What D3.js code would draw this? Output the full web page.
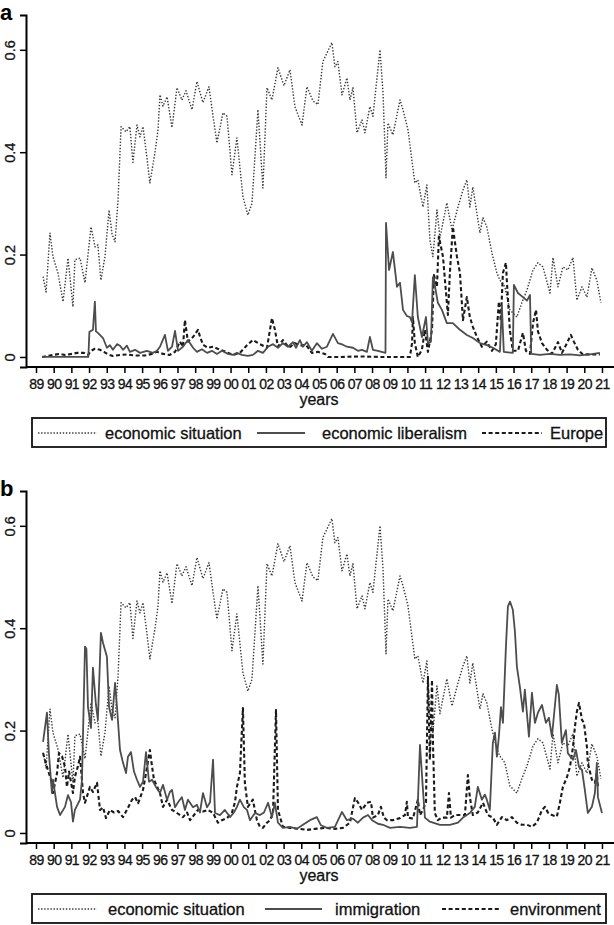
<!DOCTYPE html>
<html>
<head>
<meta charset="utf-8">
<script src="https://cdn.jsdelivr.net/npm/d3@7/dist/d3.min.js"></script>
<style>
body { margin: 0; background: #fff; }
svg { display: block; font-family: "Liberation Sans", Arial, sans-serif; }
.lbl { stroke: #111; stroke-width: 0.3px; }
</style>
</head>
<body>
<svg id="chart" width="614" height="925"></svg>
<script>
// share of topics over time, [year, value]
var econSituation = [
  [1989.40,.157],[1989.57,.127],[1989.79,.242],[1989.96,.196],[1990.24,.164],[1990.53,.108],[1990.81,.193],
  [1991.09,.098],[1991.20,.19],[1991.49,.193],[1991.77,.145],[1992.11,.254],[1992.34,.215],[1992.50,.219],
  [1992.67,.15],[1992.90,.196],[1993.13,.287],[1993.30,.24],[1993.47,.225],[1993.64,.307],[1993.81,.45],
  [1994.09,.44],[1994.31,.45],[1994.48,.38],[1994.71,.453],[1994.88,.43],[1995.05,.45],[1995.27,.39],
  [1995.44,.34],[1995.73,.40],[1995.90,.444],[1996.01,.512],[1996.18,.49],[1996.41,.508],[1996.69,.448],
  [1996.97,.526],[1997.25,.502],[1997.48,.52],[1997.82,.483],[1998.10,.538],[1998.44,.497],[1998.78,.528],
  [1999.01,.47],[1999.23,.418],[1999.57,.477],[1999.80,.47],[2000.08,.356],[2000.36,.428],[2000.70,.313],
  [2000.98,.277],[2001.21,.30],[2001.55,.483],[2001.83,.33],[2002.06,.526],[2002.34,.502],[2002.68,.565],
  [2003.02,.53],[2003.36,.561],[2003.64,.489],[2004.04,.453],[2004.32,.528],[2004.66,.50],[2004.94,.493],
  [2005.22,.577],[2005.73,.614],[2005.90,.567],[2006.07,.577],[2006.30,.512],[2006.58,.545],[2006.75,.502],
  [2006.92,.526],[2007.15,.438],[2007.43,.463],[2007.60,.438],[2007.88,.489],[2008.05,.47],[2008.45,.600],
  [2008.62,.516],[2008.79,.35],[2008.90,.457],[2009.18,.434],[2009.58,.502],[2009.75,.483],[2010.03,.444],
  [2010.42,.34],[2010.59,.346],[2010.88,.293],[2011.10,.336],[2011.27,.229],[2011.44,.196],[2011.67,.287],
  [2011.84,.233],[2012.23,.301],[2012.52,.248],[2012.86,.293],[2013.14,.326],[2013.36,.346],[2013.53,.293],
  [2013.70,.332],[2014.10,.242],[2014.27,.272],[2014.49,.254],[2014.78,.203],[2015.06,.164],[2015.23,.15],
  [2015.51,.137],[2015.79,.092],[2016.19,.078],[2016.47,.106],[2016.76,.131],[2017.10,.170],[2017.38,.184],
  [2017.66,.176],[2018.06,.125],[2018.23,.194],[2018.51,.137],[2018.79,.176],[2019.07,.170],[2019.36,.194],
  [2019.58,.111],[2019.87,.137],[2020.15,.117],[2020.43,.174],[2020.71,.150],[2020.94,.106]
];

var econLiberalism = [
  [1989.34,0],[1991.96,0],[1992.02,.049],[1992.22,.053],[1992.33,.108],[1992.39,.05],[1992.50,.047],
  [1992.79,.037],[1993.01,.018],[1993.18,.023],[1993.35,.014],[1993.58,.025],[1993.75,.022],[1993.92,.014],
  [1994.14,.022],[1994.31,.010],[1994.60,.014],[1994.88,.008],[1995.27,.012],[1995.61,.008],[1995.84,.012],
  [1996.01,.020],[1996.29,.043],[1996.46,.012],[1996.69,.02],[1996.86,.051],[1997.03,.012],[1997.31,.02],
  [1997.59,.033],[1997.88,.018],[1998.10,.01],[1998.38,.015],[1998.67,.008],[1998.95,.012],[1999.23,.006],
  [1999.51,.012],[1999.85,.006],[2000.14,.004],[2000.36,.008],[2000.64,.004],[2000.98,.002],[2001.26,.004],
  [2001.55,.012],[2001.83,.008],[2002.12,.02],[2002.40,.025],[2002.68,.018],[2002.96,.027],[2003.25,.02],
  [2003.53,.029],[2003.70,.018],[2003.92,.033],[2004.09,.02],[2004.32,.029],[2004.60,.012],[2004.88,.027],
  [2005.17,.016],[2005.45,.02],[2005.79,.045],[2006.07,.027],[2006.35,.024],[2006.58,.02],[2006.92,.018],
  [2007.20,.012],[2007.43,.014],[2007.71,.01],[2007.88,.039],[2008.05,.014],[2008.33,.012],[2008.76,.008],
  [2008.79,.262],[2008.96,.17],[2009.18,.205],[2009.41,.137],[2009.58,.145],[2009.75,.092],[2009.97,.08],
  [2010.14,.078],[2010.26,.068],[2010.42,.160],[2010.59,.078],[2010.82,.039],[2011.05,.078],[2011.16,.027],
  [2011.33,.03],[2011.44,.156],[2011.55,.14],[2011.72,.106],[2011.95,.092],[2012.23,.066],[2012.57,.066],
  [2012.97,.053],[2013.36,.043],[2013.70,.037],[2014.10,.027],[2014.49,.023],[2014.83,.018],[2015.23,.01],
  [2015.34,.10],[2015.45,.01],[2015.96,.008],[2016.02,.141],[2016.25,.125],[2016.53,.117],[2016.76,.11],
  [2016.93,.121],[2017.00,.006],[2017.49,.004],[2018.06,.006],[2018.62,.004],[2019.19,.005],[2019.75,.003],
  [2020.32,.005],[2020.88,.008]
];

var europe = [
  [1989.34,0],[1989.96,.004],[1990.36,.006],[1990.64,.004],[1991.04,.006],[1991.32,.008],[1991.71,.008],
  [1991.94,.004],[1992.11,.012],[1992.33,.016],[1992.62,.014],[1992.84,.01],[1993.07,.005],[1993.35,.002],
  [1993.75,.004],[1994.14,.005],[1994.60,.003],[1995.16,.003],[1995.56,.006],[1995.84,.01],[1996.18,.006],
  [1996.57,.004],[1996.86,.01],[1997.14,.03],[1997.31,.02],[1997.42,.072],[1997.59,.03],[1997.88,.039],
  [1998.16,.053],[1998.27,.04],[1998.44,.024],[1998.72,.018],[1999.01,.02],[1999.40,.014],[1999.74,.01],
  [2000.14,.004],[2000.53,.008],[2000.93,.023],[2001.26,.033],[2001.66,.025],[2002.06,.018],[2002.34,.076],
  [2002.51,.053],[2002.68,.02],[2002.96,.033],[2003.30,.018],[2003.64,.027],[2003.92,.022],[2004.26,.024],
  [2004.60,.008],[2004.94,.01],[2005.34,.006],[2005.51,0],[2006.18,0],[2007.32,.001],[2008.45,0],
  [2009.58,0],[2010.14,0],[2010.26,.027],[2010.31,.078],[2010.42,.027],[2010.59,0],[2010.82,.014],
  [2010.99,.053],[2011.16,.01],[2011.39,.053],[2011.50,.16],[2011.67,.137],[2011.78,.235],[2012.01,.196],
  [2012.29,.082],[2012.40,.164],[2012.57,.254],[2012.80,.196],[2012.97,.164],[2013.14,.072],[2013.36,.117],
  [2013.53,.078],[2013.70,.059],[2013.93,.039],[2014.21,.02],[2014.49,.03],[2014.78,.012],[2015.00,.025],
  [2015.17,.108],[2015.28,.07],[2015.40,.164],[2015.57,.184],[2015.62,.15],[2015.79,.053],[2015.96,.012],
  [2016.25,.012],[2016.53,.047],[2016.70,.012],[2016.93,.006],[2017.10,.066],[2017.27,.092],[2017.38,.05],
  [2017.61,.027],[2017.89,.014],[2018.17,.006],[2018.51,.029],[2018.74,.008],[2019.02,.027],[2019.24,.043],
  [2019.41,.03],[2019.64,.014],[2019.92,.005],[2020.32,.005],[2020.88,.005]
];

var immigration = [
  [1989.40,.178],[1989.62,.235],[1989.73,.156],[1989.90,.078],[1989.96,.104],[1990.19,.051],[1990.36,.035],
  [1990.64,.051],[1990.81,.074],[1990.98,.06],[1991.09,.022],[1991.20,.045],[1991.49,.065],[1991.60,.104],
  [1991.77,.364],[1991.85,.36],[1991.94,.246],[1992.11,.205],[1992.22,.323],[1992.39,.25],[1992.50,.221],
  [1992.67,.391],[1992.79,.371],[1993.01,.344],[1993.13,.246],[1993.30,.221],[1993.47,.293],[1993.58,.246],
  [1993.75,.162],[1993.92,.137],[1994.09,.117],[1994.20,.149],[1994.37,.158],[1994.54,.12],[1994.71,.104],
  [1994.88,.09],[1995.05,.10],[1995.22,.158],[1995.39,.10],[1995.56,.104],[1995.78,.09],[1996.01,.078],
  [1996.18,.094],[1996.41,.065],[1996.57,.08],[1996.69,.084],[1996.86,.05],[1997.03,.06],[1997.25,.07],
  [1997.42,.045],[1997.59,.065],[1997.88,.05],[1998.10,.055],[1998.27,.04],[1998.44,.078],[1998.67,.05],
  [1998.84,.06],[1999.01,.143],[1999.12,.039],[1999.40,.035],[1999.68,.045],[1999.97,.031],[2000.19,.04],
  [2000.36,.051],[2000.53,.065],[2000.76,.05],[2000.93,.045],[2001.10,.025],[2001.38,.039],[2001.66,.035],
  [2001.89,.04],[2002.12,.059],[2002.34,.031],[2002.51,.059],[2002.68,.02],[2002.96,.01],[2003.36,.012],
  [2003.75,.008],[2004.09,.016],[2004.49,.025],[2004.88,.031],[2005.11,.015],[2005.45,.01],[2005.90,.012],
  [2006.30,.041],[2006.58,.025],[2006.92,.028],[2007.20,.02],[2007.49,.03],[2007.77,.035],[2008.00,.025],
  [2008.33,.018],[2008.62,.016],[2009.01,.01],[2009.58,.012],[2010.14,.01],[2010.54,.012],[2010.71,.172],
  [2010.88,.084],[2010.99,.03],[2011.27,.022],[2011.84,.016],[2012.40,.016],[2012.86,.02],[2013.14,.03],
  [2013.53,.039],[2013.81,.051],[2013.98,.09],[2014.21,.065],[2014.38,.075],[2014.49,.065],[2014.66,.045],
  [2014.83,.176],[2014.95,.196],[2015.06,.149],[2015.17,.188],[2015.29,.246],[2015.40,.215],[2015.57,.364],
  [2015.68,.442],[2015.80,.452],[2015.96,.436],[2016.08,.393],[2016.19,.325],[2016.36,.285],[2016.53,.237],
  [2016.64,.280],[2016.87,.188],[2017.04,.274],[2017.21,.215],[2017.38,.235],[2017.61,.25],[2017.83,.215],
  [2018.00,.225],[2018.17,.188],[2018.45,.289],[2018.56,.270],[2018.73,.176],[2018.96,.201],[2019.07,.156],
  [2019.36,.143],[2019.53,.162],[2019.70,.129],[2019.87,.123],[2020.03,.084],[2020.20,.039],[2020.43,.051],
  [2020.60,.078],[2020.71,.137],[2020.77,.07],[2021.00,.039]
];

var environment = [
  [1989.40,.156],[1989.62,.129],[1989.85,.104],[1989.96,.078],[1990.19,.117],[1990.30,.156],[1990.47,.15],
  [1990.64,.129],[1990.75,.09],[1990.87,.12],[1991.09,.078],[1991.20,.11],[1991.37,.13],[1991.49,.149],
  [1991.66,.078],[1991.77,.059],[1992.05,.09],[1992.22,.08],[1992.45,.098],[1992.62,.045],[1992.79,.05],
  [1992.96,.029],[1993.18,.045],[1993.41,.04],[1993.64,.043],[1993.92,.031],[1994.14,.045],[1994.43,.065],
  [1994.60,.070],[1994.77,.058],[1995.05,.084],[1995.22,.117],[1995.44,.162],[1995.56,.13],[1995.67,.104],
  [1996.01,.078],[1996.18,.051],[1996.41,.065],[1996.69,.045],[1996.97,.039],[1997.31,.031],[1997.54,.04],
  [1997.71,.025],[1997.93,.035],[1998.16,.045],[1998.44,.042],[1998.72,.045],[1999.01,.039],[1999.29,.02],
  [1999.51,.025],[1999.80,.029],[2000.08,.04],[2000.25,.06],[2000.36,.09],[2000.53,.117],[2000.70,.244],
  [2000.81,.098],[2000.98,.051],[2001.26,.065],[2001.49,.025],[2001.66,.012],[2001.83,.01],[2002.06,.02],
  [2002.23,.025],[2002.40,.039],[2002.57,.240],[2002.68,.045],[2002.96,.012],[2003.36,.01],[2003.92,.008],
  [2004.32,.006],[2004.77,.008],[2005.34,.01],[2005.90,.008],[2006.35,.01],[2006.75,.02],[2007.03,.068],
  [2007.20,.06],[2007.43,.045],[2007.71,.059],[2007.94,.061],[2008.05,.03],[2008.33,.035],[2008.50,.051],
  [2008.67,.03],[2008.84,.025],[2009.18,.025],[2009.58,.029],[2009.86,.035],[2009.97,.061],[2010.03,.03],
  [2010.31,.028],[2010.59,.065],[2010.71,.035],[2010.88,.045],[2011.05,.06],[2011.16,.305],[2011.27,.143],
  [2011.39,.299],[2011.44,.182],[2011.55,.039],[2011.72,.025],[2011.95,.03],[2012.23,.03],[2012.35,.078],
  [2012.46,.03],[2012.69,.035],[2012.97,.035],[2013.25,.035],[2013.42,.113],[2013.53,.07],[2013.70,.035],
  [2013.98,.04],[2014.27,.059],[2014.55,.035],[2014.83,.03],[2015.06,.016],[2015.34,.031],[2015.62,.025],
  [2015.91,.031],[2016.19,.02],[2016.47,.016],[2016.76,.016],[2017.04,.012],[2017.32,.02],[2017.61,.045],
  [2017.78,.051],[2017.94,.04],[2018.17,.035],[2018.45,.032],[2018.62,.059],[2018.79,.09],[2019.02,.109],
  [2019.19,.129],[2019.36,.168],[2019.47,.207],[2019.58,.237],[2019.70,.254],[2019.87,.221],[2019.98,.215],
  [2020.15,.168],[2020.20,.137],[2020.43,.104],[2020.60,.098],[2020.71,.117],[2020.77,.09]
];

var tickYears = d3.range(1989, 2022);
var yTickValues = [0, 0.2, 0.4, 0.6];

// estilos de linea
var styles = {
  dot:   { stroke: "#383838", width: 1.4, dash: "1.4,1.7" },
  solid: { stroke: "#4d4d4d", width: 1.8, dash: null },
  dash:  { stroke: "#1a1a1a", width: 2.1, dash: "4,2.6" }
};

var svg = d3.select("#chart");

var x = d3.scaleLinear().domain([1988.435, 2021.68]).range([26, 614]);

function drawPanel(top, letter, series, legend) {
  var g = svg.append("g").attr("transform", "translate(0," + top + ")");
  var y = d3.scaleLinear().domain([-0.0196, 0.668]).range([367, 15]);

  var line = d3.line()
      .x(d => x(d[0]))
      .y(d => y(d[1]));

  series.forEach(function(s) {
    var st = styles[s.style];
    g.append("path")
      .datum(s.data)
      .attr("d", line)
      .attr("fill", "none")
      .attr("stroke", st.stroke)
      .attr("stroke-width", st.width)
      .attr("stroke-dasharray", st.dash)
      .attr("stroke-linejoin", "round");
  });

  // eje y
  var yAxis = d3.axisLeft(y).tickValues(yTickValues).tickSize(6).tickFormat(d => d === 0 ? "0" : d3.format(".1f")(d));
  var ya = g.append("g").attr("transform", "translate(26,0)").call(yAxis);
  ya.select(".domain").attr("stroke-width", 2);
  ya.selectAll(".tick line").attr("stroke-width", 1.5);
  ya.selectAll(".tick text")
    .attr("class", "lbl")
    .attr("font-size", 14.5)
    .attr("font-family", "Liberation Sans, Arial, sans-serif")
    .attr("fill", "#111")
    .attr("transform", "rotate(-90)")
    .attr("x", 0).attr("y", -11)
    .attr("dy", 0)
    .attr("text-anchor", "middle");

  // eje x
  var xAxis = d3.axisBottom(x).tickValues(tickYears).tickSize(6).tickFormat(d => String(d).slice(2));
  var xa = g.append("g").attr("transform", "translate(0,367)").call(xAxis);
  xa.select(".domain").attr("stroke-width", 2).attr("d", "M26,0H614");
  xa.selectAll(".tick line").attr("stroke-width", 1.5);
  xa.selectAll(".tick text")
    .attr("class", "lbl")
    .attr("font-size", 14)
    .attr("font-family", "Liberation Sans, Arial, sans-serif")
    .attr("letter-spacing", "-0.6")
    .attr("fill", "#111")
    .attr("y", 22).attr("dy", 0);

  g.append("text")
    .attr("class", "lbl")
    .attr("x", 319).attr("y", 405)
    .attr("text-anchor", "middle")
    .attr("font-size", 16)
    .attr("fill", "#111")
    .text("years");

  // letra del panel
  g.append("text")
    .attr("x", 0).attr("y", 20)
    .attr("font-size", 22)
    .attr("font-weight", "bold")
    .attr("font-family", "Liberation Sans, Arial, sans-serif")
    .text(letter);

  // leyenda
  g.append("rect")
    .attr("x", 32).attr("y", 418)
    .attr("width", 574).attr("height", 29)
    .attr("fill", "none")
    .attr("stroke", "#111")
    .attr("stroke-width", 1.8);

  legend.forEach(function(it) {
    var st = styles[it.style];
    g.append("line")
      .attr("x1", it.x1).attr("x2", it.x2)
      .attr("y1", 433).attr("y2", 433)
      .attr("stroke", st.stroke)
      .attr("stroke-width", st.width)
      .attr("stroke-dasharray", st.dash);
    g.append("text")
      .attr("class", "lbl")
      .attr("x", it.tx).attr("y", 439)
      .attr("font-size", 16.5)
      .attr("fill", "#111")
      .text(it.label);
  });
}

drawPanel(0, "a",
  [{ data: econSituation, style: "dot" },
   { data: europe, style: "dash" },
   { data: econLiberalism, style: "solid" }],
  [{ style: "dot", x1: 38, x2: 97, tx: 105, label: "economic situation" },
   { style: "solid", x1: 257, x2: 305, tx: 322, label: "economic liberalism" },
   { style: "dash", x1: 482, x2: 542, tx: 550, label: "Europe" }]);

drawPanel(476, "b",
  [{ data: econSituation, style: "dot" },
   { data: environment, style: "dash" },
   { data: immigration, style: "solid" }],
  [{ style: "dot", x1: 38, x2: 97, tx: 108, label: "economic situation" },
   { style: "solid", x1: 265, x2: 322, tx: 335, label: "immigration" },
   { style: "dash", x1: 442, x2: 500, tx: 510, label: "environment" }]);
</script>
</body>
</html>
